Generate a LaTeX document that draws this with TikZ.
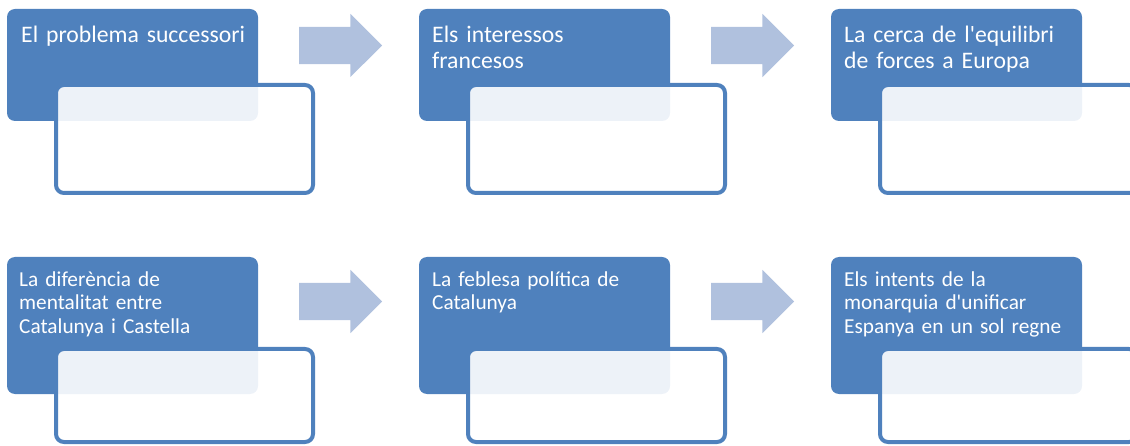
\documentclass[tikz,border=0pt]{standalone}
\usepackage{fontspec}
\setmainfont{Carlito}
\usetikzlibrary{positioning,shapes.arrows}

\definecolor{boxblue}{RGB}{79,129,189}
\definecolor{arrowblue}{RGB}{176,193,222}

\begin{document}
\begin{tikzpicture}[
    x=1pt, y=-1pt,
    bluebox/.style={rectangle, fill=boxblue, rounded corners=8pt, anchor=north west, inner sep=0pt, outer sep=0pt, minimum width=251pt},
    notebox/.style={rectangle, draw=boxblue, line width=4pt, fill=white, fill opacity=0.9, rounded corners=8pt, anchor=north west, inner sep=0pt, outer sep=0pt, minimum width=257pt},
    boxtext/.style={anchor=north west, inner sep=0pt, text width=232pt, align=left, text=white},
    toptext/.style={boxtext, font=\fontsize{23.7}{26}\selectfont},
    lowtext/.style={boxtext, font=\fontsize{21.3}{23.5}\selectfont},
    flowarrow/.style={single arrow, fill=arrowblue, draw=none, anchor=tail, outer sep=0pt, single arrow head extend=13pt, single arrow tip angle=90, minimum height=83pt, inner ysep=18.5pt, inner xsep=0pt}
]
\useasboundingbox (0,0) rectangle (1130,446);

% top row
\node[bluebox, minimum height=112pt] (b1) at (7,9) {};
\node[bluebox, minimum height=112pt] (b2) at (419,9) {};
\node[bluebox, minimum height=112pt] (b3) at (831,9) {};

\node[toptext, below right=14.8pt and 14pt of b1.north west] (t1) {\strut El problema successori};
\node[toptext, below right=14.8pt and 13pt of b2.north west] (t2) {\strut Els interessos\\francesos};
\node[toptext, below right=14.8pt and 13pt of b3.north west] (t3) {\strut La cerca de l\textquotesingle equilibri\\de forces a Europa};

\node[notebox, minimum height=108pt] (n1) at (56,85) {};
\node[notebox, minimum height=108pt] (n2) at (468,85) {};
\node[notebox, minimum height=108pt] (n3) at (880,85) {};

\node[flowarrow] (a1) at (299,45.5) {};
\node[flowarrow] (a2) at (711,45.5) {};

% bottom row
\node[bluebox, minimum height=137pt] (b4) at (7,257) {};
\node[bluebox, minimum height=137pt] (b5) at (419,257) {};
\node[bluebox, minimum height=137pt] (b6) at (831,257) {};

\node[lowtext, below right=12.5pt and 12pt of b4.north west] (t4) {\strut La diferència de\\mentalitat entre\\Catalunya i Castella};
\node[lowtext, below right=12.5pt and 13pt of b5.north west] (t5) {\strut La feblesa política de\\Catalunya};
\node[lowtext, below right=12.5pt and 13pt of b6.north west] (t6) {\strut Els intents de la\\monarquia d\textquotesingle unificar\\Espanya en un sol regne};

\node[notebox, minimum height=93pt] (n4) at (56,349) {};
\node[notebox, minimum height=93pt] (n5) at (468,349) {};
\node[notebox, minimum height=93pt] (n6) at (880,349) {};

\node[flowarrow] (a3) at (299,301.5) {};
\node[flowarrow] (a4) at (711,301.5) {};

\end{tikzpicture}
\end{document}
